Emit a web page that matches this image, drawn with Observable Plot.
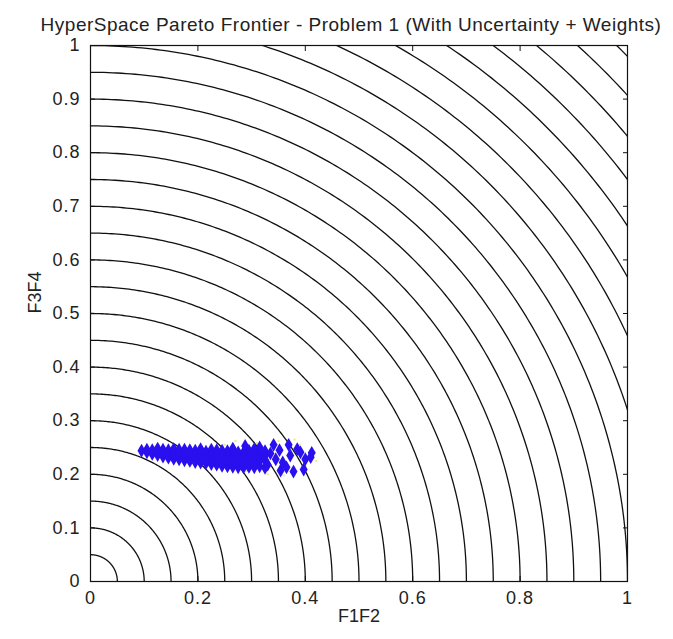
<!DOCTYPE html>
<html><head><meta charset="utf-8">
<script src="https://cdn.jsdelivr.net/npm/d3@7"></script>
<script src="https://cdn.jsdelivr.net/npm/@observablehq/plot@0.6"></script>
<style>
body{margin:0;background:#fff;}
#chart svg{font-family:"Liberation Sans",Arial,sans-serif;}
#chart svg g[aria-label="x-axis tick label"], #chart svg g[aria-label="y-axis tick label"]{letter-spacing:1px;}
</style>
</head><body><div id="chart"></div>
<script>
const titleText = "HyperSpace Pareto Frontier - Problem 1 (With Uncertainty + Weights)";
const xLabel = "F1F2";
const yLabel = "F3F4";
const xTicks = [0, 0.2, 0.4, 0.6, 0.8, 1];
const yTicks = [0, 0.1, 0.2, 0.3, 0.4, 0.5, 0.6, 0.7, 0.8, 0.9, 1];
const radii = [0.05, 0.1, 0.15, 0.2, 0.25, 0.3, 0.35, 0.4, 0.45, 0.5, 0.55, 0.6, 0.65, 0.7,
  0.75, 0.8, 0.85, 0.9, 0.95, 1.0, 1.05, 1.1, 1.15, 1.2, 1.25, 1.3, 1.35, 1.4];

// Pareto points (F1F2, F3F4)
const paretoPoints = [
  [0.095,0.244],
  [0.105,0.241],[0.105,0.246],
  [0.115,0.238],[0.115,0.245],
  [0.125,0.236],[0.125,0.244],[0.125,0.248],
  [0.135,0.233],[0.135,0.240],[0.135,0.246],
  [0.145,0.231],[0.145,0.238],[0.145,0.245],
  [0.155,0.229],[0.155,0.236],[0.155,0.243],[0.155,0.247],
  [0.165,0.228],[0.165,0.235],[0.165,0.242],[0.165,0.246],
  [0.175,0.226],[0.175,0.233],[0.175,0.240],[0.175,0.246],
  [0.185,0.225],[0.185,0.232],[0.185,0.239],[0.185,0.245],
  [0.195,0.223],[0.195,0.230],[0.195,0.237],[0.195,0.244],
  [0.205,0.222],[0.205,0.229],[0.205,0.236],[0.205,0.243],[0.205,0.247],
  [0.215,0.221],[0.215,0.228],[0.215,0.235],[0.215,0.242],
  [0.225,0.219],[0.225,0.226],[0.225,0.233],[0.225,0.240],[0.225,0.246],
  [0.235,0.218],[0.235,0.225],[0.235,0.232],[0.235,0.239],[0.235,0.245],
  [0.245,0.216],[0.245,0.223],[0.245,0.230],[0.245,0.237],[0.245,0.244],
  [0.255,0.215],[0.255,0.222],[0.255,0.229],[0.255,0.236],[0.255,0.243],
  [0.265,0.214],[0.265,0.221],[0.265,0.228],[0.265,0.235],[0.265,0.242],[0.265,0.248],
  [0.275,0.213],[0.275,0.220],[0.275,0.227],[0.275,0.234],[0.275,0.241],
  [0.285,0.213],[0.285,0.220],[0.285,0.227],[0.285,0.234],[0.285,0.241],[0.288,0.253],
  [0.295,0.214],[0.295,0.221],[0.295,0.228],[0.295,0.236],[0.295,0.244],
  [0.305,0.213],[0.305,0.222],[0.305,0.230],[0.305,0.238],[0.305,0.247],
  [0.315,0.215],[0.315,0.224],[0.315,0.232],[0.315,0.241],[0.315,0.250],
  [0.325,0.212],[0.325,0.226],[0.325,0.235],[0.325,0.243],
  [0.330,0.218],[0.335,0.239],[0.341,0.255],[0.345,0.228],[0.352,0.245],
  [0.354,0.207],[0.358,0.222],[0.365,0.213],[0.369,0.255],[0.372,0.235],
  [0.378,0.205],[0.385,0.247],[0.391,0.241],[0.397,0.209],[0.400,0.228],
  [0.410,0.232],[0.412,0.240]
];

// faint yellow points around the cluster
const yellowPoints = [
  [0.27,0.262],[0.31,0.258],[0.35,0.262],[0.38,0.265],[0.33,0.200],
  [0.36,0.198],[0.40,0.215],[0.42,0.225],[0.29,0.206],[0.25,0.255],[0.39,0.255]
];

const arcData = radii.flatMap(r =>
  d3.range(0, 181).map(i => {
    const a = (i / 180) * Math.PI / 2;
    return {r, x: r * Math.cos(a), y: r * Math.sin(a)};
  })
);

const ink = "#222";
const plot = Plot.plot({
  width: 673,
  height: 639,
  marginLeft: 90,
  marginRight: 46,
  marginTop: 45,
  marginBottom: 58,
  style: {background: "#fff", color: ink, fontSize: "18px"},
  x: {domain: [0, 1]},
  y: {domain: [0, 1]},
  marks: [
    Plot.line(arcData, {x: "x", y: "y", z: "r", stroke: "#111", strokeWidth: 1.3, clip: true}),
    Plot.dot(yellowPoints, {x: d => d[0], y: d => d[1], r: 1.2, fill: "#eeee90", stroke: "none"}),
    Plot.dot(paretoPoints, {x: d => d[0], y: d => d[1], symbol: "diamond", r: 4.2, fill: "#2a10ee", stroke: "none"}),
    Plot.frame({stroke: "#111", strokeWidth: 1.2}),
    Plot.axisX(xTicks, {anchor: "bottom", tickSize: -5, text: null, label: null, stroke: "#111"}),
    Plot.axisX(xTicks, {anchor: "top", tickSize: -5, text: null, label: null, stroke: "#111"}),
    Plot.axisY(yTicks, {anchor: "left", tickSize: -5, text: null, label: null, stroke: "#111"}),
    Plot.axisY(yTicks, {anchor: "right", tickSize: -5, text: null, label: null, stroke: "#111"}),
    Plot.axisX(xTicks, {anchor: "bottom", tickSize: 0, tickPadding: 10, label: null, fontSize: 18, tickFormat: d => String(d)}),
    Plot.axisY(yTicks, {anchor: "left", tickSize: 0, tickPadding: 10, label: null, fontSize: 18, tickFormat: d => String(d)}),
    Plot.text([titleText], {frameAnchor: "top", dy: -28, dx: -8, fontSize: 19, fill: ink}),
    Plot.text([xLabel], {frameAnchor: "bottom", dy: 40, fontSize: 18, fill: ink}),
    Plot.text([yLabel], {frameAnchor: "left", dx: -55, rotate: -90, fontSize: 18, fill: ink})
  ]
});
plot.querySelectorAll("text").forEach(t => {
  if (t.textContent === titleText) t.setAttribute("letter-spacing", "0.5");
});
document.getElementById("chart").appendChild(plot);
</script>
</body></html>
